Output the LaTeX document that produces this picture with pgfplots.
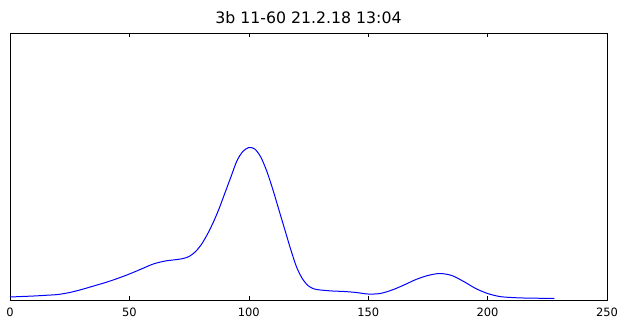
\documentclass[border=0pt]{standalone}
\usepackage{fontspec}
\setmainfont{DejaVu Sans}
\usepackage{pgfplots}
\pgfplotsset{compat=1.18}
\begin{document}
\begin{tikzpicture}
\path[use as bounding box] (-10bp,-25bp) rectangle (610bp,300bp);
\begin{axis}[
  at={(0,0)}, anchor=south west,
  scale only axis,
  width=597bp, height=267bp,
  xmin=0, xmax=250, ymin=0, ymax=267,
  xtick={0,50,100,150,200,250},
  ytick=\empty,
  tick align=inside,
  xtick pos=both,
  major tick length=4bp,
  axis line style={line width=0.8pt},
  tick style={black, line width=0.6pt},
  ticklabel style={font=\fontsize{11.5}{13}\selectfont},
  /pgf/number format/assume math mode=true,
  xticklabel style={anchor=center, yshift=-12bp},
  title={3b 11-60 21.2.18 13:04},
  title style={font=\fontsize{15.8}{17}\selectfont, at={(0.5,1)}, anchor=center, yshift=9bp},
]
\addplot[color=blue, line width=1pt, smooth, tension=0.5] coordinates {
(0,3) (5,3.5) (10,4) (15,4.7) (20,5.5) (25,7.5) (30,10.5) (35,14) (40,17.5)
(45,21.5) (50,26) (55,31) (60,36) (65,39) (70,40.5) (72.5,41.5)
(75,43.5) (77.5,48) (80,55) (82.5,65) (85,77) (87.5,91) (90,107) (92.5,123)
(95,139) (97.5,148.5) (100,152.5) (102.5,151) (105,143) (107.5,129) (110,111)
(112.5,91) (115,71) (117.5,51) (120,33) (122.5,21) (125,14) (127.5,11) (130,10)
(135,9) (140,8.5) (145,7.5) (150,6) (155,6.5) (160,10) (165,15) (170,20.5)
(175,24.5) (180,26.5) (185,24.5) (190,18.5) (195,11.5) (200,6.5) (205,3.5)
(210,2.5) (215,2) (220,1.8) (228,1.5)
};
\end{axis}
\end{tikzpicture}
\end{document}
